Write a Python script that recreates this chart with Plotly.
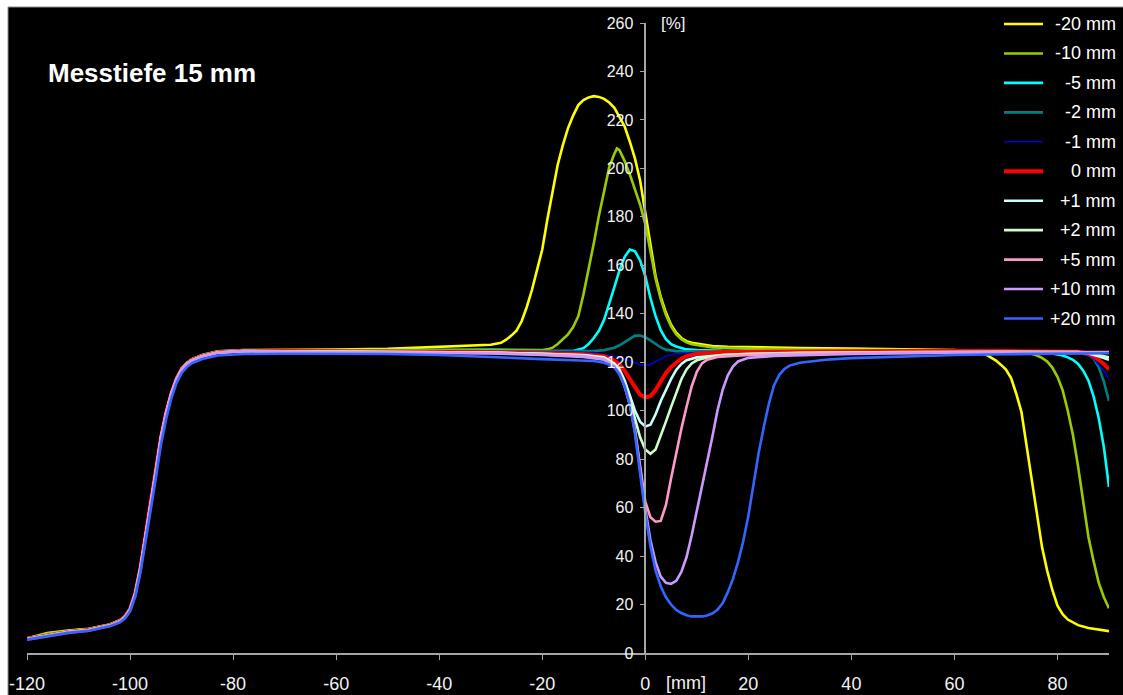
import plotly.graph_objects as go

# ---------------- data ----------------
series_names = ["-20 mm", "-10 mm", "-5 mm", "-2 mm", "-1 mm", "0 mm",
                "+1 mm", "+2 mm", "+5 mm", "+10 mm", "+20 mm"]

x_left = [-120, -116, -112, -108, -104, -102, -101, -100, -99, -98, -97, -96,
          -95, -94, -93, -92, -91, -90, -89, -88, -86, -83, -78]

y_left_typ = [5.8, 7.3, 8.6, 9.5, 11.3, 13, 14.8, 18, 24.5, 35, 48, 62,
              75, 89, 99, 107, 113, 117, 119.3, 120.8, 122.5, 124, 124.6]
y_left_m20 = [6.0, 8.2, 9.3, 10.0, 11.8, 13.5, 15.3, 18.5, 25, 35.5, 48.5, 62.5,
              75.5, 89.5, 99.5, 107.5, 113.5, 117.5, 119.8, 121.3, 123, 124.5, 125]
y_left_m10 = [5.9, 8.0, 9.1, 9.9, 11.6, 13.3, 15, 18.3, 24.8, 35.3, 48.3, 62.3,
              75.3, 89.3, 99.3, 107.3, 113.3, 117.3, 119.6, 121.1, 122.8, 124.3, 124.8]
y_left_p20 = [5.5, 7.0, 8.3, 9.2, 11.0, 12.6, 14.2, 17.2, 23.2, 33, 45.5, 59,
              72, 86, 96.5, 105, 111.3, 115.5, 118, 119.6, 121.3, 122.8, 123.4]

# -20 mm
x_m20 = x_left + [-70, -60, -50, -40, -35, -30, -28, -27, -26, -25, -24, -23, -22, -21, -20,
                  -19, -18, -17, -16, -15, -14, -13, -12, -11, -10, -9, -8, -7, -6, -5,
                  -4, -3, -2, -1, 0, 1, 2, 3, 4, 5, 6, 7, 8, 9, 11, 13, 16, 20, 30, 40,
                  50, 60, 63, 65, 66, 67, 68, 69, 70, 71, 72, 73, 74, 75, 76, 77, 78, 79,
                  80, 81, 82, 83, 84, 86, 88, 90]
y_m20 = y_left_m20 + [125, 125.2, 125.5, 126.2, 126.6, 127.2, 128, 129.3, 131, 133, 136.9, 142.8,
                      149.8, 158, 166.5, 179, 190.5, 201.5, 209.6, 216.6, 221.8, 226.1, 228.2,
                      229.3, 229.8, 229.5, 228.7, 227.2, 225, 221.4, 217.3, 211, 204, 195, 182,
                      167.5, 155.5, 147, 140.5, 135.5, 132.2, 130, 128.7, 128, 127.2, 126.7,
                      126.4, 126.2, 125.9, 125.6, 125.4, 125, 124.6, 124, 123.3, 122.2, 120.8,
                      119, 117, 113.5, 107, 99.5, 86, 71, 57, 43.7, 34, 26, 19.5, 16, 13.8,
                      12.5, 11.5, 10.3, 9.6, 9]

# -10 mm
x_m10 = x_left + [-70, -50, -30, -22, -20, -19, -18, -17, -16, -15, -14, -13, -12, -11, -10,
                  -9, -8, -7, -6, -5.5, -5, -4, -3, -2, -1, 0, 1, 2, 3, 4, 5, 6, 7, 8, 9,
                  11, 13, 20, 30, 50, 70, 73, 75, 76, 77, 78, 79, 80, 81, 82, 83, 84, 85,
                  86, 87, 88, 89, 90]
y_m10 = y_left_m10 + [124.8, 125, 125.2, 125, 125, 125.3, 126, 127.5, 129.5, 131.5, 134.5, 139,
                      148, 158, 169, 180.5, 191, 200.5, 206, 208.2, 207.5, 203, 197.5, 191.5,
                      185, 177, 166, 154.5, 146, 139.5, 134.8, 131.5, 129.5, 128.2, 127.4,
                      126.6, 126.1, 125.6, 125.2, 124.9, 124.6, 124.2, 123.5, 122.8, 121.8,
                      120.3, 117.8, 114, 108.5, 100, 90, 77, 63, 48, 38, 29, 23, 18.5]

# -5 mm
x_m5 = x_left + [-70, -50, -30, -20, -14, -12, -11, -10, -9, -8, -7, -6, -5, -4, -3, -2, -1,
                 0, 1, 2, 3, 4, 5, 6, 8, 10, 15, 30, 50, 70, 78, 80, 81, 82, 83, 84, 85, 86,
                 87, 88, 89, 90]
y_m5 = y_left_typ + [124.6, 124.8, 124.8, 124.6, 124.6, 125.8, 127.5, 130, 133, 137.5, 144, 151,
                     158, 163.5, 166.5, 165.8, 162, 155.5, 146.5, 139, 133.2, 129.5, 127.5,
                     126.5, 125.3, 125, 124.7, 124.6, 124.5, 124.3, 124, 123.3, 122.8, 122,
                     121, 119.3, 116.5, 112.5, 106, 97, 85, 68.5]

# -2 mm
x_m2 = x_left + [-70, -50, -30, -15, -10, -8, -6, -5, -4, -3, -2, -1, 0, 1, 2, 3, 4, 6, 10,
                 30, 50, 70, 84, 86, 87, 88, 89, 90]
y_m2 = y_left_typ + [124.5, 124.6, 124.6, 124.5, 124.6, 125, 126, 127, 128.3, 129.8, 131, 131,
                     130.3, 129, 127.5, 126.1, 125.2, 124.6, 124.5, 124.5, 124.4, 124.3, 124,
                     123, 121.5, 118, 112, 104]

# -1 mm
x_m1 = x_left + [-70, -50, -30, -15, -10, -8, -6, -4, -3, -2, -1, 0, 1, 2, 3, 4, 6, 10, 30,
                 50, 70, 84, 86, 87, 88, 89, 90]
y_m1 = y_left_typ + [124.4, 124.4, 124.3, 124.2, 124, 123.3, 122.3, 121.3, 120.5, 119.6, 119,
                     118.7, 119.2, 120.3, 121.6, 122.6, 123.5, 124, 124.3, 124.4, 124.4, 124,
                     122.8, 121.5, 119, 116.5, 113]

# 0 mm
x_0 = x_left + [-70, -50, -30, -20, -12, -8, -6, -5, -4, -3, -2, -1, 0, 1, 2, 3, 4, 5, 6, 7,
                8, 10, 15, 30, 50, 70, 84, 86, 87, 88, 89, 90]
y_0 = y_left_typ + [124.6, 124.4, 124.2, 123.8, 123.3, 122.5, 120.7, 119, 116.5, 113, 109.5,
                    106.6, 105.5, 106, 108.5, 112, 115.6, 118, 120, 121.5, 122.5, 123.5, 124.2,
                    124.5, 124.6, 124.6, 124.3, 123.5, 122.5, 121, 119.3, 117]

# +1 mm
x_p1 = x_left + [-70, -50, -30, -20, -12, -8, -6, -5, -4, -3, -2, -1, 0, 1, 2, 3, 4, 5, 6, 7,
                 8, 10, 15, 30, 50, 70, 84, 86, 88, 90]
y_p1 = y_left_typ + [124.5, 124.3, 124, 123.5, 123, 122, 119.5, 117, 112.5, 106.3, 100, 95.5,
                     93.5, 94.2, 98.5, 104, 108.7, 113, 116.8, 119.3, 120.8, 122, 123, 123.8,
                     124.2, 124.3, 124.2, 123.6, 122.5, 121]

# +2 mm
x_p2 = x_left + [-70, -50, -30, -20, -12, -8, -6, -5, -4, -3, -2, -1, 0, 1, 2, 3, 4, 5, 6, 7,
                 8, 9, 10, 12, 15, 20, 30, 50, 70, 84, 86, 88, 90]
y_p2 = y_left_typ + [124.5, 124.3, 124, 123.5, 122.8, 121.8, 119, 116.3, 111.5, 104.5, 96.5, 89,
                     84, 82.2, 84, 89.5, 95.5, 101.5, 107.5, 113, 117, 119.5, 120.8, 122, 123,
                     123.5, 123.9, 124.2, 124.3, 124.2, 123.8, 123, 122]

# +5 mm
x_p5 = x_left + [-70, -50, -30, -20, -12, -8, -6, -5, -4, -3, -2, -1, 0, 1, 2, 3, 4, 5, 6, 7,
                 8, 9, 10, 11, 12, 14, 20, 30, 50, 70, 90]
y_p5 = y_left_typ + [124.4, 124.2, 123.8, 123.2, 122.5, 121.3, 118.5, 115.5, 110.3, 102.8, 92,
                     77, 62.5, 56, 54.2, 54.5, 61, 72, 82.5, 92.5, 101.5, 110, 116, 119.5, 121,
                     122.2, 123, 123.5, 124, 124.2, 124.2]

# +10 mm
x_p10 = x_left + [-70, -50, -30, -20, -12, -8, -6, -5, -4, -3, -2, -1, 0, 1, 2, 3, 4, 5, 6, 7,
                  8, 9, 10, 11, 12, 13, 14, 15, 16, 17, 18, 20, 25, 40, 60, 90]
y_p10 = y_left_typ + [124.3, 124.1, 123.6, 123, 122.2, 121, 118.2, 115.2, 110, 102.5, 91.5, 76,
                      59.5, 46.5, 37.5, 31.5, 29, 28.5, 29.8, 33.5, 39.5, 48.5, 58.5, 67.5,
                      77.5, 89, 100, 108.5, 114.5, 118.2, 120.3, 121.8, 122.6, 123.4, 123.9, 124]

# +20 mm
x_p20 = x_left + [-70, -50, -40, -30, -20, -14, -10, -8, -7, -6, -5, -4, -3, -2, -1,
                  0, 1, 2, 3, 4, 5, 6, 7, 8, 9, 10, 11, 12, 13, 14, 15, 16, 17, 18, 19, 20,
                  21, 22, 23, 24, 25, 26, 27, 28, 30, 35, 40, 50, 60, 70, 80, 90]
y_p20 = y_left_p20 + [123.5, 123.4, 123, 122.3, 121.3, 120.8, 120.5, 119.8, 119, 117.8, 115, 110,
                      102.3, 90.5, 74.5, 57.5, 44, 34, 27.5, 23, 20, 17.8, 16.5, 15.6, 15.1, 15,
                      15.1, 15.5, 16.3, 17.8, 20.5, 25, 30.5, 37.5, 46, 56.5, 70.5, 82.5, 93.3,
                      103, 110.5, 114.8, 117.2, 118.6, 119.8, 121, 121.7, 122.4, 123, 123.3,
                      123.5, 123.7]

x_series = [x_m20, x_m10, x_m5, x_m2, x_m1, x_0, x_p1, x_p2, x_p5, x_p10, x_p20]
y_series = [y_m20, y_m10, y_m5, y_m2, y_m1, y_0, y_p1, y_p2, y_p5, y_p10, y_p20]

x_ticks = [-120, -100, -80, -60, -40, -20, 0, 20, 40, 60, 80]
y_ticks = [0, 20, 40, 60, 80, 100, 120, 140, 160, 180, 200, 220, 240, 260]

# ---------------- styles ----------------
colors = ["#FFFF00", "#99CC00", "#00FFFF", "#008080", "#0000DD", "#FF0000",
          "#CCFFFF", "#CCFFCC", "#FF99CC", "#CC99FF", "#3366FF"]
widths = [2.6, 2.6, 2.6, 2.6, 1.5, 4.0, 2.6, 2.6, 2.6, 2.6, 2.6]

W, H = 1123, 695
ML, MR, MT, MB = 27, 14, 23, 42
PW, PH = W - ML - MR, H - MT - MB


def px_x(px):
    return (px - ML) / PW


def px_y(py):
    return (H - MB - py) / PH


fig = go.Figure()
for name, xs, ys, c, w in zip(series_names, x_series, y_series, colors, widths):
    assert len(xs) == len(ys), name
    fig.add_trace(go.Scatter(x=xs, y=ys, mode="lines", name=name,
                             line=dict(color=c, width=w), showlegend=False))

axis_col = "#A6A6A6"
text_col = "#F2F2F2"
narrow = "Liberation Sans Narrow, Arial Narrow, Liberation Sans, Arial, sans-serif"
regular = "Liberation Sans, Arial, sans-serif"

shapes = [
    # black chart area with white border at top and left
    dict(type="rect", xref="paper", yref="paper", layer="below",
         x0=px_x(8), x1=px_x(1135), y0=px_y(705), y1=px_y(7),
         fillcolor="black", line=dict(color="#8C8C8C", width=1)),
]
annotations = [
    dict(text="<b>Messtiefe 15 mm</b>", xref="paper", yref="paper",
         x=px_x(46), y=px_y(73), xanchor="left", yanchor="middle", showarrow=False,
         font=dict(family=regular, size=26, color="white")),
    dict(text="[%]", xref="paper", yref="paper", x=px_x(659), y=px_y(23),
         xanchor="left", yanchor="middle", showarrow=False,
         font=dict(family=regular, size=17, color=text_col)),
    dict(text="[mm]", xref="paper", yref="paper", x=px_x(686), y=px_y(683),
         xanchor="center", yanchor="middle", showarrow=False,
         font=dict(family=narrow, size=18, color=text_col)),
]

# manual legend (right-aligned labels as in the reference)
for i, (name, c, w) in enumerate(zip(series_names, colors, widths)):
    yc = 24 + 29.45 * i
    shapes.append(dict(type="line", xref="paper", yref="paper",
                       x0=px_x(1004), x1=px_x(1043), y0=px_y(yc), y1=px_y(yc),
                       line=dict(color=c, width=w)))
    annotations.append(dict(text=name, xref="paper", yref="paper",
                            x=px_x(1118), y=px_y(yc), xanchor="right", yanchor="middle",
                            showarrow=False,
                            font=dict(family=regular, size=18, color="white")))

fig.update_layout(
    width=W, height=H,
    margin=dict(l=ML, r=MR, t=MT, b=MB, pad=0, autoexpand=False),
    paper_bgcolor="white", plot_bgcolor="black",
    showlegend=False,
    shapes=shapes, annotations=annotations,
    xaxis=dict(range=[-120, 90], tickvals=x_ticks, ticktext=[str(v) for v in x_ticks],
               showgrid=False, zeroline=False, showline=True, linecolor=axis_col,
               linewidth=1.5, ticks="outside", ticklen=5, tickcolor=axis_col, tickwidth=1,
               tickfont=dict(family=narrow, size=18, color=text_col),
               ticklabelstandoff=9, anchor="y", automargin=False),
    yaxis=dict(range=[0, 260], tickvals=y_ticks, showgrid=False, zeroline=False,
               showline=True, linecolor=axis_col, linewidth=1.5, ticks="outside",
               ticklen=5, tickcolor=axis_col, tickwidth=1,
               tickfont=dict(family=regular, size=16, color=text_col),
               anchor="free", position=120 / 210, side="left", ticklabelstandoff=3,
               automargin=False),
)

fig.write_html("out.html")
